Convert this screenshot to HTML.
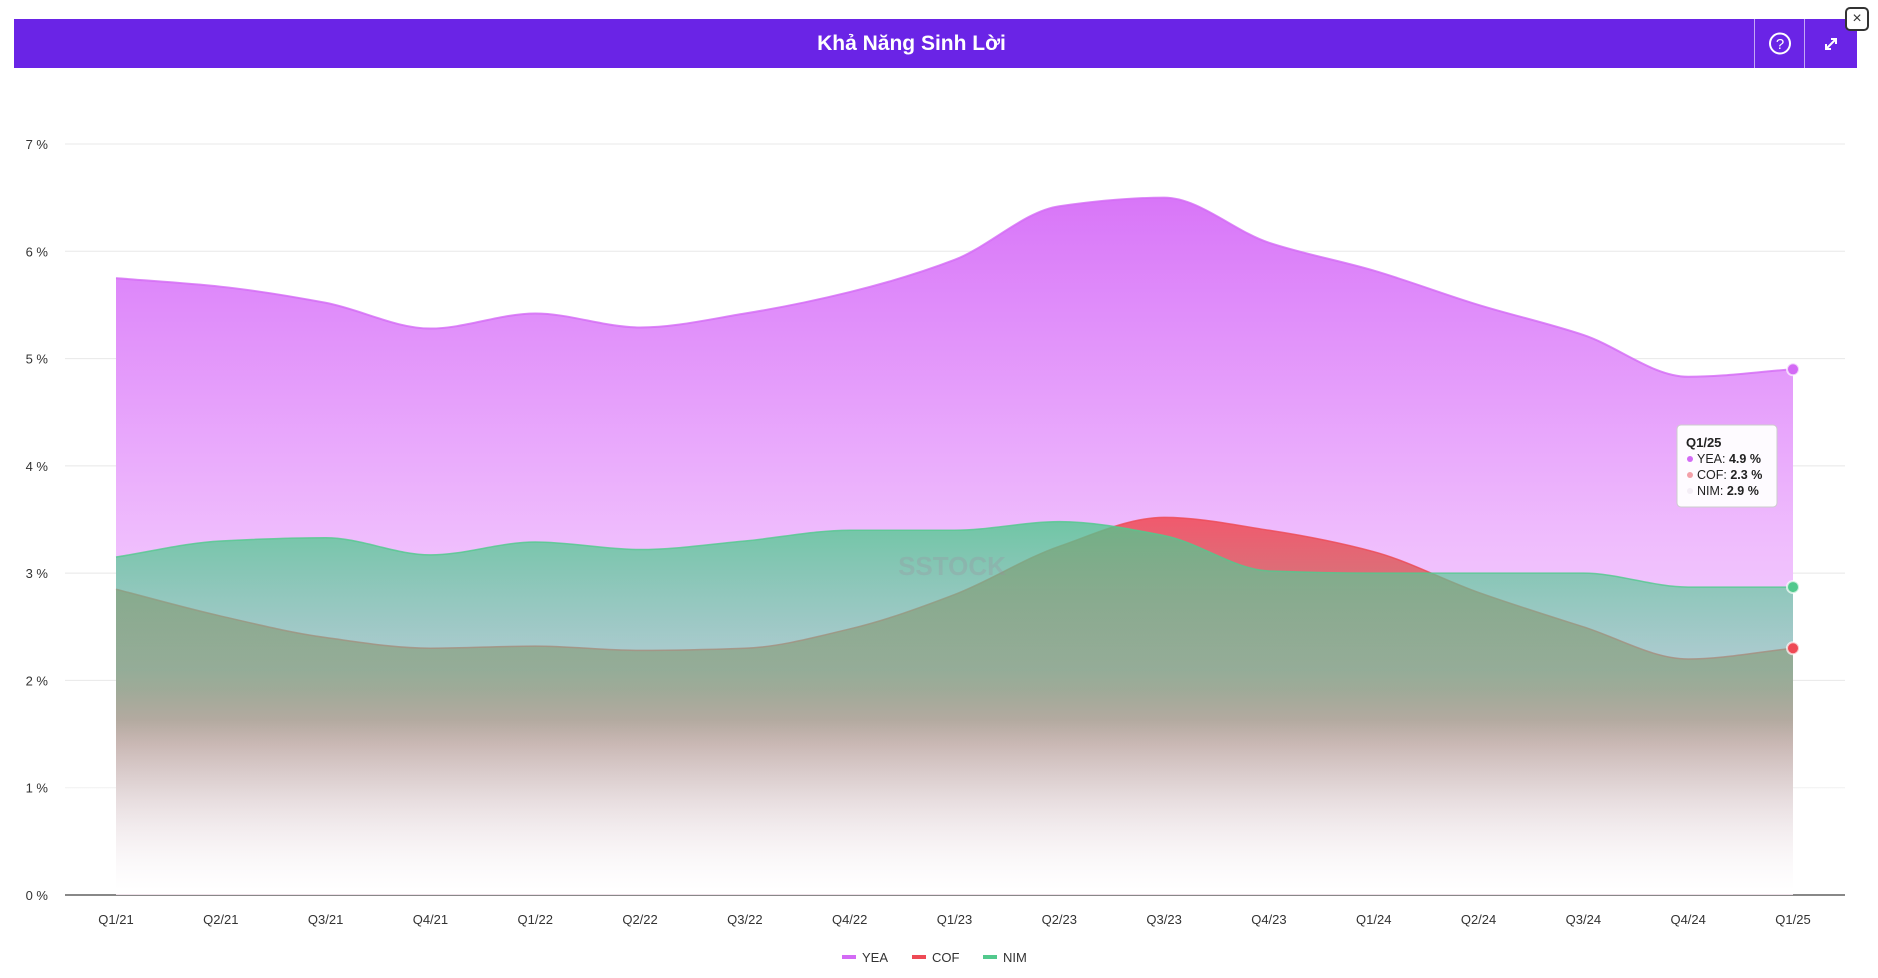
<!DOCTYPE html>
<html><head><meta charset="utf-8">
<style>
html,body{margin:0;padding:0;background:#fff;width:1878px;height:978px;overflow:hidden;font-family:"Liberation Sans",sans-serif;}
#hdr{position:absolute;left:14px;top:19px;width:1843px;height:49px;background:#6a24e6;}
#title{position:absolute;left:0;width:1795px;top:0;line-height:49px;text-align:center;color:#fff;font-weight:bold;font-size:21px;}
.btn{position:absolute;top:0;width:50px;height:49px;border-left:1px solid rgba(255,255,255,.6);}
#close{position:absolute;left:1845px;top:7px;width:20px;height:20px;border:2px solid #333;border-radius:5px;background:#fff;font-size:16px;line-height:19px;text-align:center;color:#333;}
svg{position:absolute;left:0;top:0;}
</style></head><body>
<div id="hdr">
 <div id="title">Khả Năng Sinh Lời</div>
 <div class="btn" style="left:1740px">
  <svg width="50" height="49"><circle cx="25" cy="24.5" r="10" fill="none" stroke="#fff" stroke-width="2"/><text x="25" y="30" fill="#fff" font-size="15" text-anchor="middle" font-family="Liberation Sans">?</text></svg></div>
 <div class="btn" style="left:1790px">
  <svg width="53" height="49"><path d="M21 30 L31 20 M26 20 H31 V25 M21 25 V30 H26" stroke="#fff" stroke-width="2" fill="none"/></svg></div>
</div>
<div id="close">×</div>
<svg id="chart" width="1878" height="978" style="top:0"></svg>
<script>
const categories=["Q1/21","Q2/21","Q3/21","Q4/21","Q1/22","Q2/22","Q3/22","Q4/22","Q1/23","Q2/23","Q3/23","Q4/23","Q1/24","Q2/24","Q3/24","Q4/24","Q1/25"];
const yeaValues=[5.75,5.67,5.52,5.28,5.42,5.29,5.42,5.62,5.92,6.42,6.5,6.08,5.82,5.5,5.22,4.83,4.9];
const cofValues=[2.85,2.6,2.4,2.3,2.32,2.28,2.3,2.48,2.8,3.25,3.52,3.4,3.2,2.82,2.5,2.2,2.3];
const nimValues=[3.15,3.3,3.33,3.17,3.29,3.22,3.3,3.4,3.4,3.48,3.35,3.02,3.0,3.0,3.0,2.87,2.87];
const yTicks=[0,1,2,3,4,5,6,7];
const NS="http://www.w3.org/2000/svg";
const svg=document.getElementById('chart');
const x0=116,dx=(1793-116)/(categories.length-1);
const X=i=>x0+i*dx;
const Y=v=>895-v*(895-144)/7;
function el(t,a,p){const e=document.createElementNS(NS,t);for(const k in a)e.setAttribute(k,a[k]);(p||svg).appendChild(e);return e;}
const defs=el('defs',{});
defs.innerHTML=`
<linearGradient id="gY" gradientUnits="userSpaceOnUse" x1="0" y1="180" x2="0" y2="895"><stop offset="0" stop-color="#d772f8"/><stop offset="0.5" stop-color="#efbcfd"/><stop offset="1" stop-color="#fbeefe"/></linearGradient>
<linearGradient id="gN" gradientUnits="userSpaceOnUse" x1="0" y1="520" x2="0" y2="895"><stop offset="0" stop-color="#4cc98c" stop-opacity="0.78"/><stop offset="0.4" stop-color="#6cc9a6" stop-opacity="0.5"/><stop offset="0.6" stop-color="#9cc8b6" stop-opacity="0.1"/><stop offset="1" stop-color="#ffffff" stop-opacity="0"/></linearGradient>
<linearGradient id="gC" gradientUnits="userSpaceOnUse" x1="0" y1="520" x2="0" y2="895"><stop offset="0" stop-color="#f0505e" stop-opacity="0.9"/><stop offset="0.45" stop-color="#a88870" stop-opacity="0.8"/><stop offset="0.7" stop-color="#c0a8a0" stop-opacity="0.75"/><stop offset="1" stop-color="#e0d4d4" stop-opacity="0.5"/></linearGradient>
<linearGradient id="gW" gradientUnits="userSpaceOnUse" x1="0" y1="720" x2="0" y2="890"><stop offset="0" stop-color="#fff" stop-opacity="0"/><stop offset="1" stop-color="#fff" stop-opacity="1"/></linearGradient>`;
yTicks.forEach(t=>{
 const g=el('line',{x1:65,x2:1845,y1:Y(t),y2:Y(t),stroke:t===0?'#888':'#e8e8e8','stroke-width':t===0?2:1});
 
 
 const tx=el('text',{x:48,y:Y(t)+5,'text-anchor':'end','font-size':13,fill:'#333'});
 tx.textContent=t+' %';
 
 
});
function monoPath(vals){
 const n=vals.length,xs=vals.map((v,i)=>X(i)),ys=vals.map(Y);
 const d=[],m=[];
 for(let i=0;i<n-1;i++)d.push((ys[i+1]-ys[i])/(xs[i+1]-xs[i]));
 for(let i=0;i<n;i++){
  if(i===0)m.push(d[0]);else if(i===n-1)m.push(d[n-2]);
  else m.push(d[i-1]*d[i]<=0?0:2/(1/d[i-1]+1/d[i]));
 }
 let p=`M${xs[0]},${ys[0]}`;
 for(let i=0;i<n-1;i++){const h=(xs[i+1]-xs[i])/3;p+=` C${xs[i]+h},${ys[i]+m[i]*h} ${xs[i+1]-h},${ys[i+1]-m[i+1]*h} ${xs[i+1]},${ys[i+1]}`;}
 return p;
}
function series(vals,fill,stroke,name,sw){
 const p=monoPath(vals);
 const a=el('path',{d:p+` L${X(vals.length-1)},895 L${X(0)},895 Z`,fill:fill});
 
 
 const l=el('path',{d:p,fill:'none',stroke:stroke,'stroke-width':sw,'stroke-opacity':0.8});
 
 
}
series(yeaValues,'url(#gY)','#d36af5','yea',2);
series(cofValues,'url(#gC)','#ee4a55','cof',1.5);
series(nimValues,'url(#gN)','#52c98d','nim',1.5);
const fade=el('rect',{x:60,y:720,width:1790,height:174,fill:'url(#gW)'});


const wm=el('text',{x:952,y:575,'text-anchor':'middle','font-size':26,'font-weight':'bold',fill:'#9a8fa0','fill-opacity':0.3});
wm.textContent='SSTOCK';


categories.forEach((c,i)=>{
 const t=el('text',{x:X(i),y:924,'text-anchor':'middle','font-size':13,fill:'#333'});
 t.textContent=c;
 
 
});
const li=categories.length-1;
[[yeaValues,'#d36af5'],[nimValues,'#52c98d'],[cofValues,'#ee4a55']].forEach(([v,c])=>{
 const m=el('circle',{cx:X(li),cy:Y(v[li]),r:6,fill:c,stroke:'#fff','stroke-width':2,'stroke-opacity':0.7});
 
 
});
const tg=el('g',{});


el('rect',{x:1677,y:425,width:100,height:82,rx:4,fill:'#fff','fill-opacity':0.95,stroke:'#ccc'},tg);
const tt=el('text',{x:1686,y:447,'font-size':13,'font-weight':'bold',fill:'#222'},tg);tt.textContent=categories[li];
[['YEA',yeaValues,'#d36af5'],['COF',cofValues,'#f3a0a8'],['NIM',nimValues,'#f4eef6']].forEach(([n,v,c],k)=>{
 const yy=463+k*16;
 el('circle',{cx:1690,cy:yy-4,r:3,fill:c},tg);
 const t=el('text',{x:1697,y:yy,'font-size':12.5,fill:'#222'},tg);
 t.innerHTML=n+': <tspan font-weight="bold">'+v[li].toFixed(1)+' %</tspan>';
});
[['YEA','#d36af5',842],['COF','#ee4a55',912],['NIM','#52c98d',983]].forEach(([n,c,x])=>{
 const g=el('g',{});
 
 
 el('rect',{x:x,y:955,width:14,height:4,fill:c},g);
 const t=el('text',{x:x+20,y:962,'font-size':13,fill:'#333'},g);t.textContent=n;
});
</script>
</body></html>
